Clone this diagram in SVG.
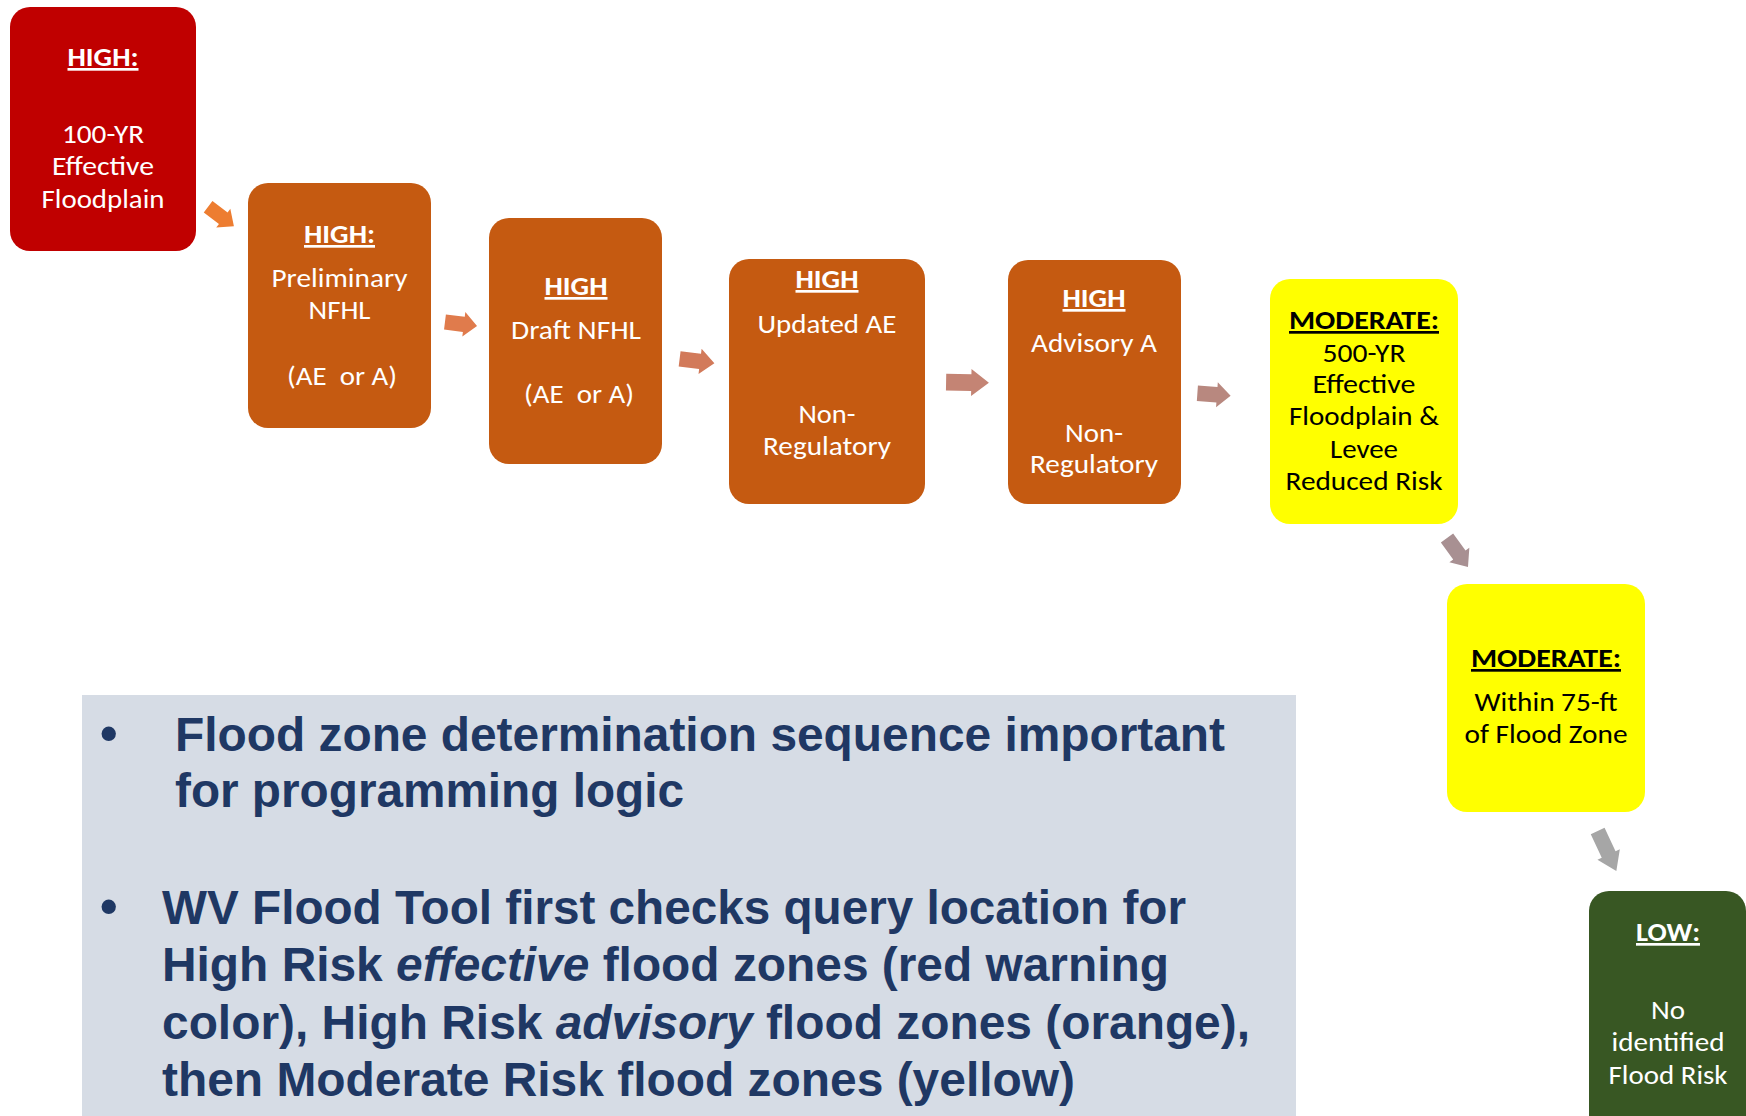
<svg xmlns="http://www.w3.org/2000/svg" xmlns:xlink="http://www.w3.org/1999/xlink" width="1746" height="1116" viewBox="0 0 1746 1116">
<style>
.bt{font-family:Carlito,Lato,"Open Sans",sans-serif;font-size:27px;text-anchor:middle}
.w{fill:#FFFFFF}
.k{fill:#000000}
.h{font-weight:bold;text-decoration:underline}
.pre{white-space:pre}
.pt{font-family:"Liberation Sans",Arial,sans-serif;font-weight:bold;font-size:48px;fill:#1F3864}
.it{font-style:italic}
</style>
<defs>
<path id="arr" d="M-17,-8 H3 V-13 L17,0 L3,13 V8 H-17 Z"/>
</defs>
<rect x="0" y="0" width="1746" height="1116" fill="#FFFFFF"/>

<g id="panel">
<rect x="82" y="695" width="1214" height="421" fill="#D6DCE5"/>
<text class="pt" x="100" y="750" style="font-size:50px">•</text>
<text class="pt" x="175" y="751" textLength="1050" lengthAdjust="spacingAndGlyphs">Flood zone determination sequence important</text>
<text class="pt" x="175" y="807" textLength="509" lengthAdjust="spacingAndGlyphs">for programming logic</text>
<text class="pt" x="100" y="923" style="font-size:50px">•</text>
<text class="pt" x="162" y="924" textLength="1024" lengthAdjust="spacingAndGlyphs">WV Flood Tool first checks query location for</text>
<text class="pt" x="162" y="981" textLength="1007" lengthAdjust="spacingAndGlyphs">High Risk <tspan class="it">effective</tspan> flood zones (red warning</text>
<text class="pt" x="162" y="1039" textLength="1088" lengthAdjust="spacingAndGlyphs">color), High Risk <tspan class="it">advisory</tspan> flood zones (orange),</text>
<text class="pt" x="162" y="1096" textLength="913" lengthAdjust="spacingAndGlyphs">then Moderate Risk flood zones (yellow)</text>
</g>

<g id="connectors">
<use xlink:href="#arr" href="#arr" fill="#ED7D31" transform="translate(221,216.5) rotate(37) scale(0.95,0.9)"/>
<use xlink:href="#arr" href="#arr" fill="#E07B4C" transform="translate(461,324) rotate(7) scale(0.95,0.95)"/>
<use xlink:href="#arr" href="#arr" fill="#D27A5A" transform="translate(697,361) rotate(7) scale(1.03,0.97)"/>
<use xlink:href="#arr" href="#arr" fill="#C48474" transform="translate(967.5,382.5) rotate(1) scale(1.26,1.04)"/>
<use xlink:href="#arr" href="#arr" fill="#B8887F" transform="translate(1214,394.5) rotate(4) scale(0.98,0.97)"/>
<use xlink:href="#arr" href="#arr" fill="#A89092" transform="translate(1457.5,552.5) rotate(54) scale(1.05,0.95)"/>
<use xlink:href="#arr" href="#arr" fill="#A6A6A6" transform="translate(1607,851) rotate(65) scale(1.3,0.95)"/>
</g>

<g id="n1">
<rect x="10" y="7" width="186" height="244" rx="20" fill="#C00000"/>
<text class="bt w h" x="103" y="66" textLength="71" lengthAdjust="spacingAndGlyphs">HIGH:</text>
<text class="bt w" x="103" y="143" textLength="82" lengthAdjust="spacingAndGlyphs">100-YR</text>
<text class="bt w" x="103" y="175" textLength="102" lengthAdjust="spacingAndGlyphs">Effective</text>
<text class="bt w" x="103" y="208" textLength="123" lengthAdjust="spacingAndGlyphs">Floodplain</text>
</g>

<g id="n2">
<rect x="248" y="183" width="183" height="245" rx="20" fill="#C55A11"/>
<text class="bt w h" x="339.5" y="243" textLength="71" lengthAdjust="spacingAndGlyphs">HIGH:</text>
<text class="bt w" x="339.5" y="287" textLength="136" lengthAdjust="spacingAndGlyphs">Preliminary</text>
<text class="bt w" x="339.5" y="319" textLength="62" lengthAdjust="spacingAndGlyphs">NFHL</text>
<text class="bt w pre" x="342" y="385" textLength="110" lengthAdjust="spacingAndGlyphs">(AE  or A)</text>
</g>

<g id="n3">
<rect x="489" y="218" width="173" height="246" rx="20" fill="#C55A11"/>
<text class="bt w h" x="576" y="295" textLength="63" lengthAdjust="spacingAndGlyphs">HIGH</text>
<text class="bt w" x="576" y="339" textLength="130" lengthAdjust="spacingAndGlyphs">Draft NFHL</text>
<text class="bt w pre" x="579" y="403" textLength="110" lengthAdjust="spacingAndGlyphs">(AE  or A)</text>
</g>

<g id="n4">
<rect x="729" y="259" width="196" height="245" rx="20" fill="#C55A11"/>
<text class="bt w h" x="827" y="288" textLength="63" lengthAdjust="spacingAndGlyphs">HIGH</text>
<text class="bt w" x="827" y="333" textLength="139" lengthAdjust="spacingAndGlyphs">Updated AE</text>
<text class="bt w" x="827" y="423" textLength="57" lengthAdjust="spacingAndGlyphs">Non-</text>
<text class="bt w" x="827" y="455" textLength="128" lengthAdjust="spacingAndGlyphs">Regulatory</text>
</g>

<g id="n5">
<rect x="1008" y="260" width="173" height="244" rx="20" fill="#C55A11"/>
<text class="bt w h" x="1094" y="307" textLength="63" lengthAdjust="spacingAndGlyphs">HIGH</text>
<text class="bt w" x="1094" y="352" textLength="126" lengthAdjust="spacingAndGlyphs">Advisory A</text>
<text class="bt w" x="1094" y="442" textLength="58" lengthAdjust="spacingAndGlyphs">Non-</text>
<text class="bt w" x="1094" y="473" textLength="128" lengthAdjust="spacingAndGlyphs">Regulatory</text>
</g>

<g id="n6">
<rect x="1270" y="279" width="188" height="245" rx="20" fill="#FFFF00"/>
<text class="bt k h" x="1364" y="329" textLength="150" lengthAdjust="spacingAndGlyphs">MODERATE:</text>
<text class="bt k" x="1364" y="362" textLength="83" lengthAdjust="spacingAndGlyphs">500-YR</text>
<text class="bt k" x="1364" y="393" textLength="103" lengthAdjust="spacingAndGlyphs">Effective</text>
<text class="bt k" x="1364" y="425" textLength="150" lengthAdjust="spacingAndGlyphs">Floodplain &amp;</text>
<text class="bt k" x="1364" y="458" textLength="68" lengthAdjust="spacingAndGlyphs">Levee</text>
<text class="bt k" x="1364" y="490" textLength="157" lengthAdjust="spacingAndGlyphs">Reduced Risk</text>
</g>

<g id="n7">
<rect x="1447" y="584" width="198" height="228" rx="20" fill="#FFFF00"/>
<text class="bt k h" x="1546" y="667" textLength="150" lengthAdjust="spacingAndGlyphs">MODERATE:</text>
<text class="bt k" x="1546" y="711" textLength="143" lengthAdjust="spacingAndGlyphs">Within 75-ft</text>
<text class="bt k" x="1546" y="743" textLength="163" lengthAdjust="spacingAndGlyphs">of Flood Zone</text>
</g>

<g id="n8">
<rect x="1589" y="891" width="157" height="245" rx="20" fill="#385723"/>
<text class="bt w h" x="1668" y="941" textLength="64" lengthAdjust="spacingAndGlyphs">LOW:</text>
<text class="bt w" x="1668" y="1019" textLength="34" lengthAdjust="spacingAndGlyphs">No</text>
<text class="bt w" x="1668" y="1051" textLength="113" lengthAdjust="spacingAndGlyphs">identified</text>
<text class="bt w" x="1668" y="1084" textLength="119" lengthAdjust="spacingAndGlyphs">Flood Risk</text>
</g>
</svg>
